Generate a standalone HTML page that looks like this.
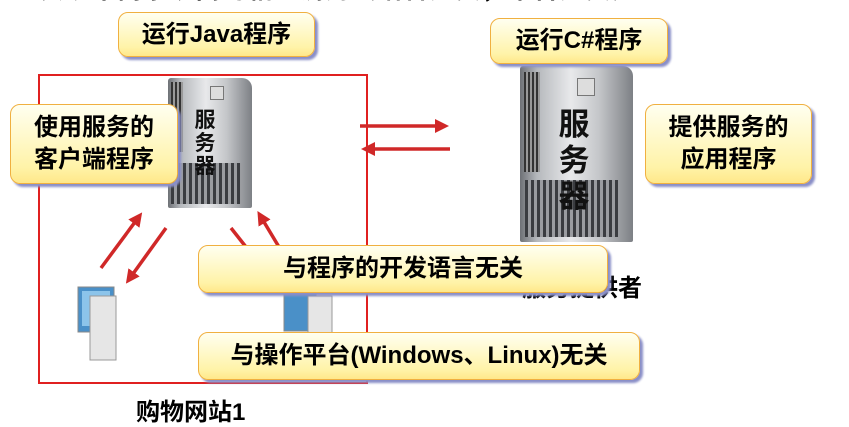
<!DOCTYPE html>
<html><head><meta charset="utf-8"><style>
body{margin:0;width:849px;height:424px;background:#fff;position:relative;overflow:hidden;font-family:"Liberation Sans","Noto Sans CJK SC",sans-serif;}
.b{position:absolute;box-sizing:border-box;border:1.5px solid #f0b040;border-radius:10px;background:linear-gradient(#fffff0,#fff3a8 80%,#ffe88a);box-shadow:3px 3px 2px #8a8fc8;display:flex;align-items:center;justify-content:center;text-align:center;font-weight:bold;color:#000;font-size:24px;line-height:32px;}
.t{position:absolute;font-weight:bold;font-size:24px;}
.srv{position:absolute;background:linear-gradient(90deg,#6e7176 0%,#b5b8bc 15%,#e8e9eb 45%,#c4c6c9 70%,#7d8085 100%);border-radius:3px 10px 2px 2px;}
.grill{position:absolute;left:4%;right:12%;bottom:3%;height:32%;background:repeating-linear-gradient(90deg,#3a3c40 0 3px,#9a9ca0 3px 6px);}
.st{position:absolute;font-family:"Noto Sans CJK SC",sans-serif;color:#111;text-align:center;font-weight:bold;}
</style></head><body>
<div class="t" style="left:40px;top:-30px;font-size:24px;white-space:nowrap;letter-spacing:2px">实现不同系统间的相互调用（语言无关，平台无关）</div>

<div style="position:absolute;left:38px;top:74px;width:330px;height:310px;border:2.5px solid #e02020;box-sizing:border-box"></div>

<div class="srv" style="left:168px;top:78px;width:84px;height:130px"><div class="grill"></div><div style="position:absolute;left:3px;top:4px;width:12px;height:70px;background:repeating-linear-gradient(90deg,#333 0 2px,#999 2px 4px)"></div><div style="position:absolute;left:42px;top:8px;width:12px;height:12px;background:#ddd;border:1px solid #777"></div>
<div class="st" style="left:24px;top:30px;width:26px;font-size:21px;line-height:23px">服<br>务<br>器</div></div>

<div class="srv" style="left:520px;top:66px;width:113px;height:176px"><div class="grill"></div><div style="position:absolute;left:4px;top:6px;width:16px;height:100px;background:repeating-linear-gradient(90deg,#333 0 2px,#999 2px 4px)"></div><div style="position:absolute;left:57px;top:12px;width:16px;height:16px;background:#ddd;border:1px solid #777"></div>
<div class="st" style="left:36px;top:38px;width:36px;font-size:31px;line-height:36px">服<br>务<br>器</div></div>

<div class="b" style="left:118px;top:12px;width:197px;height:45px">运行Java程序</div>
<div class="b" style="left:490px;top:18px;width:178px;height:46px">运行C#程序</div>
<div class="b" style="left:10px;top:104px;width:168px;height:80px">使用服务的<br>客户端程序</div>
<div class="b" style="left:645px;top:104px;width:167px;height:80px">提供服务的<br>应用程序</div>

<svg style="position:absolute;left:0;top:0" width="849" height="424">
<defs><marker id="a" markerWidth="4" markerHeight="4" refX="2" refY="2" orient="auto"><path d="M0,0L4,2L0,4z" fill="#d02828"/></marker></defs>
<g stroke="#d02828" stroke-width="3.5" fill="none" marker-end="url(#a)">
<line x1="360" y1="126" x2="442" y2="126"/>
<line x1="450" y1="149" x2="368" y2="149"/>
<line x1="101" y1="268" x2="138" y2="218"/>
<line x1="166" y1="228" x2="130" y2="278"/>
<line x1="279" y1="247" x2="261" y2="217"/>
</g>
<line x1="231" y1="228" x2="246" y2="247" stroke="#d02828" stroke-width="3.5"/>
<g>
<rect x="78" y="287" width="36" height="45" fill="#4a90c8" stroke="#888"/>
<rect x="82" y="291" width="28" height="35" fill="#8cc4ea"/>
<rect x="90" y="296" width="26" height="64" fill="#e6e6e6" stroke="#999"/>
<rect x="284" y="293" width="32" height="38" fill="#4a90c8" stroke="#888"/>
<rect x="308" y="296" width="24" height="40" fill="#e6e6e6" stroke="#999"/>
</g>
</svg>

<div class="t" style="left:522px;top:268px;">服务提供者</div>
<div class="b" style="left:198px;top:245px;width:410px;height:48px">与程序的开发语言无关</div>
<div class="b" style="left:198px;top:332px;width:442px;height:48px">与操作平台(Windows、Linux)无关</div>
<div class="t" style="left:136px;top:392px;">购物网站1</div>
</body></html>
